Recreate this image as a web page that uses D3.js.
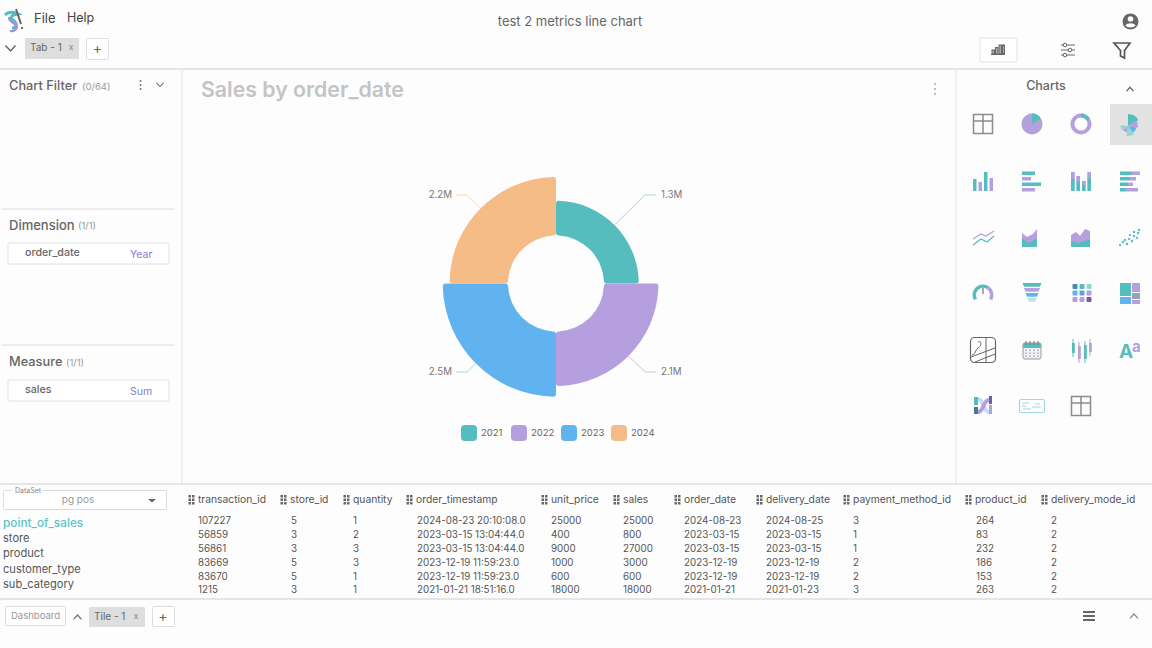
<!DOCTYPE html>
<html><head><meta charset="utf-8">
<script src="https://cdn.jsdelivr.net/npm/d3@7"></script>
<style>html,body{margin:0;padding:0;background:#fdfdfd;overflow:hidden}svg{display:block}text{font-family:Inter,"Noto Sans",sans-serif}</style>
</head><body><svg id="c" width="1152" height="648"></svg>
<script>
const years = ["2021","2022","2023","2024"];
const sales = [1.29,2.08,2.51,2.24];
const colors = ["#56BDBF","#B59FDF","#61B3F0","#F5BC87"];
const tableNames = ["point_of_sales","store","product","customer_type","sub_category"];
const columns = ["transaction_id","store_id","quantity","order_timestamp","unit_price","sales","order_date","delivery_date","payment_method_id","product_id","delivery_mode_id"];
const rows = [
["107227","5","1","2024-08-23 20:10:08.0","25000","25000","2024-08-23","2024-08-25","3","264","2"],
["56859","3","2","2023-03-15 13:04:44.0","400","800","2023-03-15","2023-03-15","1","83","2"],
["56861","3","3","2023-03-15 13:04:44.0","9000","27000","2023-03-15","2023-03-15","1","232","2"],
["83669","5","3","2023-12-19 11:59:23.0","1000","3000","2023-12-19","2023-12-19","2","186","2"],
["83670","5","1","2023-12-19 11:59:23.0","600","600","2023-12-19","2023-12-19","2","153","2"],
["1215","3","1","2021-01-21 18:51:16.0","18000","18000","2021-01-21","2021-01-23","3","263","2"]];

const svg = d3.select("#c");
const T=(x,y,s,size,fill,o={})=>svg.append("text").attr("x",x).attr("y",y).attr("dy",".35em").attr("font-size",size).attr("fill",fill).attr("font-weight",o.w||400).attr("text-anchor",o.a||"start").text(s);
const L=(x1,y1,x2,y2,c="#dcdcdc",w=1)=>svg.append("line").attr("x1",x1).attr("y1",y1).attr("x2",x2).attr("y2",y2).attr("stroke",c).attr("stroke-width",w);
const R=(x,y,w,h,fill,stroke,r=0,g=svg)=>g.append("rect").attr("x",x).attr("y",y).attr("width",w).attr("height",h).attr("fill",fill||"none").attr("stroke",stroke||"none").attr("rx",r);
const P=(d,fill,stroke,w=1,g=svg)=>g.append("path").attr("d",d).attr("fill",fill||"none").attr("stroke",stroke||"none").attr("stroke-width",w);
const chev=(x,y,up,c="#777",w=5,sw=1.5)=>P(up?`M${x-w} ${y+w*.6}L${x} ${y-w*.5}L${x+w} ${y+w*.6}`:`M${x-w} ${y-w*.5}L${x} ${y+w*.6}L${x+w} ${y-w*.5}`,null,c,sw);

/* frame lines */
L(0,69,1152,69,"#dedede",1.5);
L(182,69,182,484,"#e4e4e4");
L(956,69,956,484,"#e4e4e4");
L(0,484,1152,484,"#dedede",1.5);
L(0,599,1152,599,"#dedede",1.5);
L(1,209,175,209,"#dcdcdc");
L(1,345,175,345,"#dcdcdc");

/* top bar */
P("M5 15C9 11 14 12 18 14C12 15 9 17 13 20C17 23 18 28 12 28","none","#56BDBF",3);
P("M9 17C8 20 13 23 16 25C18 28 15 32 10 31","none","#A78BDB",2.2);
P("M16 9L21 24","none","#666",2);
P("M22 27v2","none","#666",2);
T(34,18,"File",13,"#444");
T(67,18,"Help",12.5,"#444");
T(570,21.5,"test 2 metrics line chart",13,"#666",{a:"middle"});
svg.append("circle").attr("cx",1130.500).attr("cy",21.500).attr("r",8).attr("fill","#666");
svg.append("circle").attr("cx",1130.500).attr("cy",19).attr("r",2.800).attr("fill","#fdfdfd");
P("M1125.500 25.500C1127 22.500 1134 22.500 1135.500 25.500C1134 28 1127 28 1125.500 25.500Z","#fdfdfd");
chev(10.500,48,false,"#666");
R(25,38,54,21,"#dedede",null,1);
T(30,47,"Tab - 1",10,"#666");
T(71,47.500,"x",8.500,"#888",{a:"middle"});
R(86.500,38.500,22,21,"#fff","#dedede",1);
T(97.500,48,"+",14,"#666",{a:"middle"});
R(980,38,37,24,"#fff","#e3e3e3",1);
[[992,50,2.500,4],[995.500,47.500,2.500,6.500],[999,45,2.500,9],[1002.500,45,2,9]].forEach(b=>R(b[0],b[1],b[2],b[3],"#aaa","#666"));
L(991,54.500,1005,54.500,"#666");
[[45,1065],[50,1070],[55,1065]].forEach(a=>{L(1061,a[0],1075,a[0],"#666");svg.append("circle").attr("cx",a[1]).attr("cy",a[0]).attr("r",1.800).attr("fill","#fff").attr("stroke","#666");});
P("M1114 43H1130L1124.500 50.500V58L1120.500 56V50.500Z","#fff","#555",1.700);

/* left panel */
T(9,85.500,"Chart Filter",12.8,"#666",{w:500});
T(82,87,"(0/64)",9.500,"#999");
[81,85,89].forEach(y=>svg.append("circle").attr("cx",140.500).attr("cy",y).attr("r",1).attr("fill","#777"));
chev(160,84.500,false,"#888",3.500,1.2);
T(9,225,"Dimension",13,"#666",{w:500});
T(78,226,"(1/1)",9.500,"#999");
R(8,243,161,21,"#fff","#e2e2e2",1);
T(25,252.500,"order_date",10.700,"#666",{w:500});
T(130,254,"Year",10.500,"#8B7AD0");
T(9,362,"Measure",12.8,"#666",{w:500});
T(66,363,"(1/1)",9.500,"#999");
R(8,380,161,21,"#fff","#e2e2e2",1);
T(25,389.500,"sales",10.700,"#666",{w:500});
T(130,391,"Sum",10.500,"#8B7AD0");

/* chart */
T(201,89.500,"Sales by order_date",21.3,"#c4c4c4",{w:600});
[84,89,94].forEach(y=>svg.append("circle").attr("cx",935).attr("cy",y).attr("r",1).attr("fill","#aaa"));

const cx=556, cy=283.5, inner=48;
const rScale=d3.scaleLinear().domain([1.3,2.5]).range([83,113]);
const pieData=d3.pie().sort(null)(years.map(()=>1)).map((d,i)=>({...d,i,v:sales[i]}));
const arc=d3.arc().innerRadius(inner).outerRadius(d=>rScale(d.v)).cornerRadius(3);
const g=svg.append("g").attr("transform",`translate(${cx},${cy})`);
g.selectAll("path.s").data(pieData).join("path").attr("class","s").attr("d",arc).attr("fill",(d,i)=>colors[i]);
const fmt=v=>d3.format(".1f")(v)+"M";
const line=d3.line();
const lineColor=["#9FD6E6","#C9C9C9","#A9D6EA","#F3D9BC"];
g.selectAll("path.l").data(pieData).join("path").attr("class","l").attr("fill","none").attr("stroke-width",1)
 .attr("stroke",(d,i)=>lineColor[i])
 .attr("d",d=>{const a=(d.startAngle+d.endAngle)/2,r=rScale(d.v),sx=Math.sin(a),sy=-Math.cos(a);
   const side=sx>0?1:-1,vert=sy>0?1:-1;
   return line([[sx*r,sy*r],[side*89,vert*88.5],[side*100,vert*88.5]]);});
g.selectAll("text.v").data(pieData).join("text").attr("class","v")
 .attr("x",d=>Math.sin((d.startAngle+d.endAngle)/2)>0?105:-104)
 .attr("y",d=>-Math.cos((d.startAngle+d.endAngle)/2)>0?88:-89)
 .attr("dy",".35em").attr("font-size",9.7).attr("fill","#777")
 .attr("text-anchor",d=>Math.sin((d.startAngle+d.endAngle)/2)>0?"start":"end").text(d=>fmt(d.v));
const lx=d3.scalePoint().domain(years).range([461,611]);
const lg=svg.selectAll("g.lg").data(years).join("g").attr("class","lg").attr("transform",d=>`translate(${lx(d)},425)`);
lg.append("rect").attr("width",16).attr("height",16).attr("rx",4).attr("fill",(d,i)=>colors[i]);
lg.append("text").attr("x",20).attr("y",8).attr("dy",".35em").attr("font-size",9.5).attr("fill","#666").text(d=>d);

/* chart type gallery */
T(1046,85.500,"Charts",12.5,"#666",{a:"middle",w:500});
chev(1130,89,true,"#666",3.500,1.4);
R(1110,104,42,41,"#e2e2e2");
const teal="#56BDBF",lil="#B59FDF",blu="#61B3F0",org="#F5BC87",gr="#8c8c8c";
const icon=(x,y)=>svg.append("g").attr("transform",`translate(${x},${y})`);
const grid=(x,y)=>{const i=icon(x,y);R(-9.500,-9.500,19,19,"none",gr,0,i).attr("stroke-width",1.500);P("M0 -9.500V9.500M-9.500 -3H9.500","none",gr,1.500,i);};
const ar=d3.arc();
const seg=(i,r0,r1,a0,a1,c)=>P(ar({innerRadius:r0,outerRadius:r1,startAngle:a0,endAngle:a1}),c,null,1,i);
grid(983,124);
let ic=icon(1032,124);seg(ic,0,10.500,0,6.283,lil);seg(ic,0,10.500,0,1.050,teal);
ic=icon(1081,124);seg(ic,6.500,10.500,0,6.283,lil);seg(ic,6.500,10.500,0,1,teal);
ic=icon(1128,126);seg(ic,0,12,0,1.050,teal);seg(ic,0,10,1.050,1.750,lil);seg(ic,0,8.500,1.750,2.500,blu);seg(ic,0,10,2.500,3.300,"#8fd8d2");seg(ic,0,6.500,3.300,4.100,lil);seg(ic,0,7.500,4.100,4.800,"#8fd8d2");
const vbars=(x,y,a,b)=>{const i=icon(x,y);a.forEach((h,k)=>{const bx=-10+k*5.500;R(bx,10-h,3.500,h,k%2?lil:teal,null,0,i);if(b)R(bx,10-h,3.500,h-b[k],lil,null,0,i),R(bx,10-b[k],3.500,b[k],teal,null,0,i);});};
vbars(983,181,[12,9,19,13]);
vbars(1081,181,[19,15,10,19],[12,10,6,13]);
ic=icon(1032,181);[[13,lil],[9,lil],[19,teal],[13,lil]].map((a,k)=>[a[0],k%2?lil:teal]).forEach((a,k)=>{R(-10,-9.500+k*5.500,a[0],3.500,a[1],null,0,ic);});
ic=icon(1130,181);[[12,8],[10,6],[8,5],[5,13]].forEach((w,k)=>{R(-10,-9.500+k*5.500,w[0],3.500,teal,null,0,ic);R(-10+w[0],-9.500+k*5.500,w[1],3.500,lil,null,0,ic);});
P("M973 239L981 234L986 236L994 231","none",lil,1.200);
P("M973 245L981 239L987 242L994 236","none",teal,1.200);
P("M1022 247V233L1027 237L1033 234L1037 229V247Z",lil);P("M1022 247V238L1029 243L1037 238V247Z",teal);
P("M1071 247V235L1076 232L1080 236L1085 229L1090 231V247Z",lil);P("M1071 247V241L1078 243L1090 239V247Z",teal);
[[-10,8],[-7,5],[-3,7],[-1,2],[2,4],[4,-1],[7,1],[8,-4],[-5,3],[0,-2],[4,-5],[9,-7]].forEach((p,k)=>svg.append("circle").attr("cx",1130+p[0]).attr("cy",237+p[1]).attr("r",1.200).attr("fill",k%3?teal:"#7bb7d8"));
ic=icon(983,295);seg(ic,7,10.500,-2.100,.6,teal);seg(ic,7,10.500,.6,2.100,lil);P("M0 -7V-1","none",gr,1.500,ic);
ic=icon(1032,293);[[teal,9.500,8,-10],[lil,8,6.500,-5],[blu,6.500,5,0],["#bfe0f5",5,3,5]].forEach(f=>P(`M${-f[1]} ${f[3]}H${f[1]}L${f[2]} ${f[3]+3.800}H${-f[2]}Z`,f[0],null,1,ic));
ic=icon(1081,293);[["#4c86a8",teal,"#8fd8d2"],[blu,"#5f9fe0",lil],[lil,"#b59fdf","#6f5fa8"]].forEach((r,a)=>r.forEach((c,b)=>R(-8.500+b*7,-9+a*6.500,5,5,c,null,1,ic)));
ic=icon(1130,293);R(-10,-10,11,13,teal,null,0,ic);R(2,-10,8,9,lil,null,0,ic);R(-10,4,11,7,blu,null,0,ic);R(2,0,8,6,"#8fa6b5",null,0,ic);R(2,7,8,4,lil,null,0,ic);
ic=icon(983,350);R(-12.500,-12.500,25,25,"#fff","#666",4,ic).attr("stroke-width",1.200);P("M-12 7L12 -2M-8 12L12 4M3 -12V12M-5 -8C-1 -10 -1 -4 -5 -2C-8 0 -7 4 -11 5","none","#666",1,ic);
ic=icon(1032,350);R(-9,-7,18,16,"#f3f3f3","#999",2,ic);R(-9,-7,18,5,teal,null,1,ic);[-6,-2,2,6].forEach(x=>{L(1032+x,341,1032+x,345,"#777");[0,1,2].forEach(k=>R(x-1,-.5+k*3,2,1.500,"#bcb4dc",null,0,ic));});
ic=icon(1081,350);[[-9,-7,5,7,teal],[-3,-4,9,6,lil],[3,-5,7,9,teal],[8,-7,6,5,lil]].forEach(c=>{P(`M${c[0]+1} ${c[1]-4}V${c[1]+c[2]+c[3]+2}`,"none",c[4],1,ic);R(c[0],c[1],2.800,c[3]+c[2]-2,c[4],null,0,ic);});
svg.append("text").attr("x",1119).attr("y",358).attr("font-size",19).attr("font-family","'Liberation Serif',serif").attr("font-weight",700).attr("fill",teal).text("A");
svg.append("text").attr("x",1132).attr("y",352).attr("font-size",15).attr("font-family","'Liberation Serif',serif").attr("font-weight",700).attr("fill",lil).text("a");
ic=icon(983,406);R(-9,-9,4,8,teal,null,0,ic);R(-9,1,4,7,"#3f7f8f",null,0,ic);R(6,-10,3,8,"#6f5fa8",null,0,ic);R(6,-1,3,9,lil,null,0,ic);P("M-5 -7C1 -7 0 6 6 6","none","#bfe0f5",4,ic);P("M-5 6C1 6 0 -6 6 -6","none",lil,4,ic);
ic=icon(1032,406);R(-12.500,-6.500,25,13,"#fff","#9FD6E0",1.500,ic).attr("stroke-width",1.200);P("M-10 -3H-3M-10 0H-6M0 1H9M-9 3H-1M3 -2H8","none","#9FD6E0",1,ic);
grid(1081,406);

/* data set */
R(3.500,490.500,163,19,"#fff","#dcdcdc",1);
R(12,486,30,6,"#fdfdfd");
T(15,490.500,"DataSet",7,"#888");
T(78,499.500,"pg pos",10,"#999",{a:"middle"});
P("M148 499H156L152 502.500Z","#666");
const ty=d3.scalePoint().domain(tableNames).range([522.500,584]);
svg.selectAll("text.tb").data(tableNames).join("text").attr("class","tb").attr("x",3).attr("y",d=>ty(d)).attr("dy",".35em").attr("font-size",(d,i)=>i?11.100:11.800).attr("font-weight",(d,i)=>i?400:500).attr("fill",(d,i)=>i?"#555":"#5cc3c6").text(d=>d);

/* table */
const colX=d3.scaleOrdinal().domain(columns).range([198,290,353,416,551,623,684,766,853,975,1051]);
const cellX=d3.scaleOrdinal().domain(columns).range([198,291,353,417,551,623,684,766,853,976,1051]);
const rowY=d3.scalePoint().domain(d3.range(rows.length)).range([520.5,590]);
const hd=svg.selectAll("g.h").data(columns).join("g").attr("class","h").attr("transform",d=>`translate(${colX(d)},499.5)`);
hd.append("text").attr("dy",".35em").attr("font-size",10.300).attr("fill","#555").text(d=>d);
[[-9.500,-4.500],[-6,-4.500],[-9.500,-1],[-6,-1],[-9.500,2.500],[-6,2.500]].forEach(p=>hd.append("rect").attr("x",p[0]).attr("y",p[1]).attr("width",2.500).attr("height",2.500).attr("fill","#666"));
rows.forEach((r,i)=>svg.append("g").selectAll("text").data(r).join("text").attr("x",(d,j)=>cellX(columns[j])).attr("y",rowY(i)).attr("dy",".35em").attr("font-size",9.800).attr("fill","#555").text(d=>d));

/* bottom bar */
R(5.500,606.500,60,19,"#fff","#dcdcdc",1);
T(11,616,"Dashboard",9.500,"#999");
chev(77.500,617,true,"#777",4,1.3);
R(89,607,56,20,"#dedede",null,1);
T(94,616,"Tile - 1",10,"#666");
T(136,616.500,"x",8.500,"#888",{a:"middle"});
R(152.500,606.500,22,20,"#fff","#dcdcdc",1);
T(163,616.500,"+",14,"#666",{a:"middle"});
[612,616,620].forEach(y=>L(1083,y,1095,y,"#666",2));
chev(1134,616,true,"#888",4,1.2);
</script></body></html>
